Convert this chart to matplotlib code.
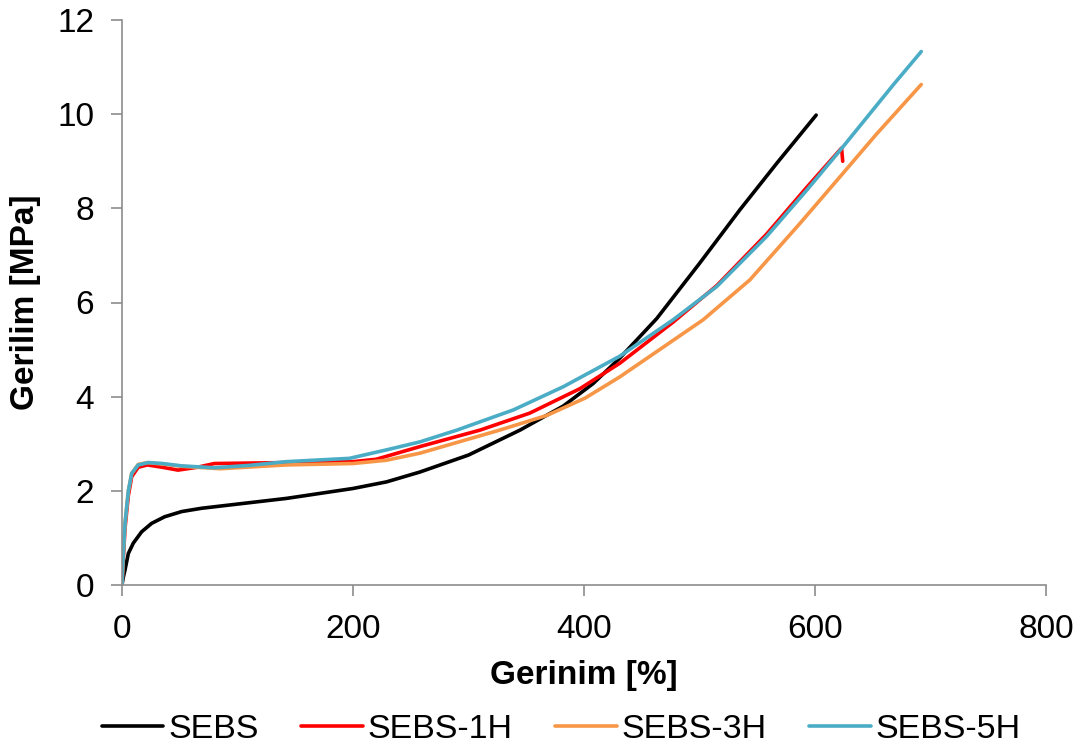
import matplotlib
matplotlib.use("Agg")
import matplotlib.pyplot as plt

plt.rcParams['font.family'] = ['Liberation Sans', 'DejaVu Sans']

# SEBS (black)
sebs_x = [0, 1, 2.6, 5.5, 9.8, 17, 25.7, 37, 51.7, 69, 90, 142.6, 200, 229, 258, 300, 344.6, 382, 408, 431, 463, 500, 535, 567, 601]
sebs_y = [0, 0.15, 0.32, 0.67, 0.89, 1.13, 1.31, 1.45, 1.56, 1.63, 1.69, 1.84, 2.05, 2.19, 2.4, 2.76, 3.29, 3.8, 4.28, 4.82, 5.66, 6.83, 7.97, 8.96, 9.98]

# SEBS-1H (red)
h1_x = [0, 1, 2.6, 5.5, 8.4, 14, 22, 35, 48.5, 65, 80, 142, 200, 220, 258, 310, 353, 396.5, 431, 477, 515, 558, 593, 623, 624]
h1_y = [0, 0.5, 1.2, 1.9, 2.3, 2.5, 2.55, 2.5, 2.44, 2.5, 2.58, 2.6, 2.62, 2.67, 2.94, 3.29, 3.65, 4.17, 4.71, 5.58, 6.36, 7.45, 8.45, 9.28, 9.0]

# SEBS-3H (orange)
h3_x = [0, 1, 2.6, 5.5, 8.4, 14, 22, 35, 52, 85, 142, 200, 229, 258, 327, 367.6, 401, 431, 503, 543.6, 587, 622, 653, 692]
h3_y = [0, 0.6, 1.3, 2.0, 2.37, 2.56, 2.6, 2.57, 2.52, 2.47, 2.55, 2.58, 2.65, 2.8, 3.29, 3.6, 3.97, 4.42, 5.63, 6.48, 7.68, 8.68, 9.57, 10.63]

# SEBS-5H (cyan)
h5_x = [0, 1, 2.6, 5.5, 8.4, 14, 22.8, 35, 51.7, 80, 110, 142.6, 197, 229, 258, 290, 339, 382, 431, 477, 515, 558, 593, 622, 668, 692]
h5_y = [0, 0.6, 1.31, 2.0, 2.37, 2.55, 2.6, 2.58, 2.53, 2.49, 2.54, 2.62, 2.69, 2.87, 3.04, 3.29, 3.72, 4.21, 4.86, 5.63, 6.34, 7.4, 8.39, 9.24, 10.63, 11.33]

labels = ['SEBS', 'SEBS-1H', 'SEBS-3H', 'SEBS-5H']
colors = ['#000000', '#FF0000', '#F79646', '#4BACC6']

fig = plt.figure(figsize=(10.84, 7.49), dpi=100)
ax = fig.add_axes([122/1084, 1-585/749, 924/1084, 565/749])

series = [(sebs_x, sebs_y), (h1_x, h1_y), (h3_x, h3_y), (h5_x, h5_y)]
for (x, y), lab, c in zip(series, labels, colors):
    ax.plot(x, y, color=c, lw=2.6, label=lab, solid_capstyle='round', solid_joinstyle='round')

ax.set_xlim(0, 800)
ax.set_ylim(0, 12)
ax.set_xticks([0, 200, 400, 600, 800])
ax.set_yticks([0, 2, 4, 6, 8, 10, 12])

for s in ['top', 'right']:
    ax.spines[s].set_visible(False)
for s in ['left', 'bottom']:
    ax.spines[s].set_color('#8c8c8c')
    ax.spines[s].set_linewidth(1.2)
ax.tick_params(axis='both', colors='#8c8c8c', labelcolor='black', labelsize=24,
               length=8, width=1.2, direction='out')
ax.tick_params(axis='y', pad=12)
ax.tick_params(axis='x', pad=13)

ax.set_xlabel('Gerinim [%]', fontsize=24, fontweight='bold', labelpad=11)
ax.set_ylabel('Gerilim [MPa]', fontsize=24, fontweight='bold', labelpad=12)

fig.legend(loc='center', bbox_to_anchor=(0.518, 0.026), ncol=4, frameon=False,
           fontsize=24.5, handlelength=1.8, handletextpad=0.15, columnspacing=1.25)

fig.savefig('out.png', dpi=100)
